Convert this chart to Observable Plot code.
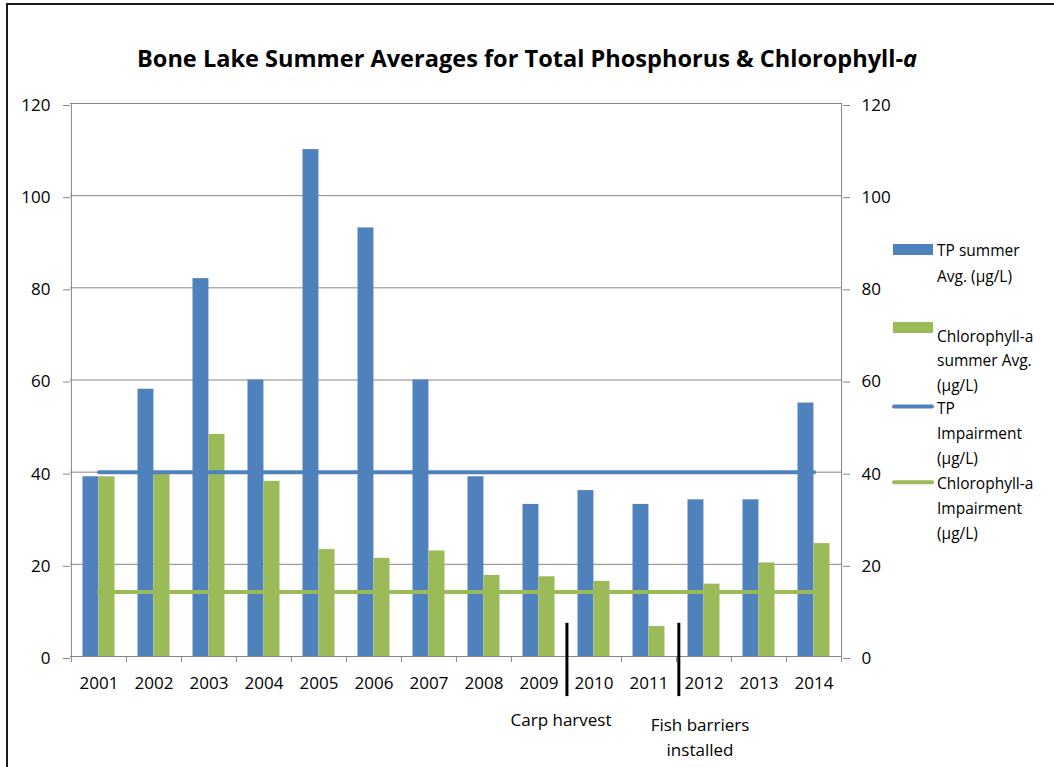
<!DOCTYPE html>
<html><head><meta charset="utf-8">
<script src="https://cdn.jsdelivr.net/npm/d3@7"></script>
<script src="https://cdn.jsdelivr.net/npm/@observablehq/plot@0.6"></script>
<style>
body{margin:0;background:#fff;}
#wrap{position:relative;width:1054px;height:767px;overflow:hidden;font-family:'Open Sans',sans-serif;background:#fff;}
#frame{position:absolute;left:6px;top:3px;width:1100px;height:800px;border-top:2px solid #1a1a1a;border-left:2px solid #1a1a1a;}
#chart{position:absolute;left:0;top:-1px;}
#over{position:absolute;left:0;top:0;}
</style></head><body>
<div id="wrap"><div id="frame"></div><div id="chart"></div><svg id="over" width="1054" height="767"></svg></div>
<script>
// ---- data ----
const years = ["2001","2002","2003","2004","2005","2006","2007","2008","2009","2010","2011","2012","2013","2014"];
const tpAvg  = [39, 58, 82, 60, 110, 93, 60, 39, 33, 36, 33, 34, 34, 55];
const chlAvg = [39, 39.8, 48.2, 38, 23.2, 21.3, 22.9, 17.6, 17.3, 16.3, 6.5, 15.7, 20.3, 24.5];
const tpImpairment = 40;
const chlImpairment = 14;
const yTicks = [0, 20, 40, 60, 80, 100, 120];
const seriesLabels = [
  ["TP summer", "Avg. (µg/L)"],
  ["Chlorophyll-a", "summer Avg.", "(µg/L)"],
  ["TP", "Impairment", "(µg/L)"],
  ["Chlorophyll-a", "Impairment", "(µg/L)"]
];
const titleMain = "Bone Lake Summer Averages for Total Phosphorus & Chlorophyll-";
const titleItalic = "a";
const annotationYears = ["2010", "2012"];
const annotationLabels = ["Carp harvest", "Fish barriers\ninstalled"];

const BLUE = "#4F81BD", GREEN = "#9BBB59", GRID = "#868686";
const rows = years.map((y, i) => ({year: y, tp: tpAvg[i], chl: chlAvg[i]}));

const W = 1054, H = 767, mL = 70, mR = 212, mT = 104, mB = 110;
const bw = (W - mL - mR) / years.length;

const chart = Plot.plot({
  width: W, height: H,
  marginLeft: mL, marginRight: mR, marginTop: mT, marginBottom: mB,
  style: {fontFamily: "'Open Sans', sans-serif", fontSize: "17px", color: "#000", background: "transparent", overflow: "visible"},
  x: {type: "band", domain: years, padding: 0, axis: null},
  y: {domain: [0, 120], axis: null},
  marks: [
    Plot.ruleY(yTicks.slice(1), {stroke: GRID, strokeWidth: 1}),
    Plot.ruleY([0], {stroke: GRID, strokeWidth: 1}),
    Plot.ruleX([years[0]], {stroke: GRID, dx: -bw / 2}),
    Plot.ruleX([years[years.length - 1]], {stroke: GRID, dx: bw / 2}),
    Plot.axisY({anchor: "left", ticks: yTicks, tickSize: 7, tickPadding: 13, stroke: GRID, fill: "#000", label: null, fontSize: 17, dy: 2}),
    Plot.axisY({anchor: "right", ticks: yTicks, tickSize: 7, tickPadding: 12, stroke: GRID, fill: "#000", label: null, fontSize: 17, dy: 2}),
    Plot.axisX({ticks: years, tickSize: 0, tickPadding: 20, fill: "#000", label: null, fontSize: 17}),
    Plot.axisX({ticks: years, tickSize: 6, tickFormat: () => "", stroke: GRID, label: null, dx: -bw / 2}),
    Plot.axisX({ticks: [years[years.length - 1]], tickSize: 6, tickFormat: () => "", stroke: GRID, label: null, dx: bw / 2}),
    Plot.barY(rows, {x: "year", y: "tp", fill: BLUE, insetLeft: 11.5, insetRight: bw / 2}),
    Plot.barY(rows, {x: "year", y: "chl", fill: GREEN, insetLeft: bw / 2, insetRight: 11.5}),
    Plot.lineY(years, {x: d => d, y: () => tpImpairment, stroke: BLUE, strokeWidth: 4, strokeLinecap: "round"}),
    Plot.lineY(years, {x: d => d, y: () => chlImpairment, stroke: GREEN, strokeWidth: 4, strokeLinecap: "round"}),
    Plot.ruleX([annotationYears[0]], {x: d => d, y1: 7.2, y2: -8.7, stroke: "#000", strokeWidth: 3, dx: -bw / 2 + 0.5}),
    Plot.ruleX([annotationYears[1]], {x: d => d, y1: 7.2, y2: -8.7, stroke: "#000", strokeWidth: 3, dx: -bw / 2 + 2.4}),
    Plot.text([0], {x: () => annotationYears[0], y: () => 0, text: () => annotationLabels[0], dy: 57, dx: -33, lineAnchor: "top", fontSize: 17, fill: "#000"}),
    Plot.text([1], {x: () => annotationYears[1], y: () => 0, text: () => annotationLabels[1], dy: 57, dx: -4, lineAnchor: "top", lineHeight: 1.45, fontSize: 17, fill: "#000"})
  ]
});
document.getElementById("chart").appendChild(chart);

// ---- title & legend overlay ----
const over = d3.select("#over");
const t = over.append("text")
  .attr("x", 527).attr("y", 67).attr("text-anchor", "middle")
  .attr("font-family", "'Open Sans', sans-serif").attr("font-weight", "bold").attr("font-size", 23.5)
  .attr("textLength", 780).attr("lengthAdjust", "spacingAndGlyphs");
t.append("tspan").text(titleMain);
t.append("tspan").attr("font-style", "italic").text(titleItalic);

const legendColors = [BLUE, GREEN, BLUE, GREEN];
const legendKinds = ["bar", "bar", "line", "line"];
const legendFirstBaseline = [256, 341.5, 413.5, 489.2];
const legendLineStep = [26, 24.5, 25, 25];
const lg = over.append("g").attr("font-family", "'Open Sans', sans-serif").attr("font-size", 15.5);
seriesLabels.forEach((lines, i) => {
  const b = legendFirstBaseline[i];
  if (legendKinds[i] === "bar") {
    lg.append("rect").attr("x", 893).attr("y", b - 12 - (i === 1 ? 7.5 : 0)).attr("width", 40).attr("height", 11).attr("fill", legendColors[i]);
  } else {
    lg.append("line").attr("x1", 894).attr("x2", 932).attr("y1", b - 7).attr("y2", b - 7)
      .attr("stroke", legendColors[i]).attr("stroke-width", 4).attr("stroke-linecap", "round");
  }
  lines.forEach((s, j) => {
    lg.append("text").attr("x", 937).attr("y", b + j * legendLineStep[i]).attr("fill", "#000").text(s);
  });
});
</script>
</body></html>
